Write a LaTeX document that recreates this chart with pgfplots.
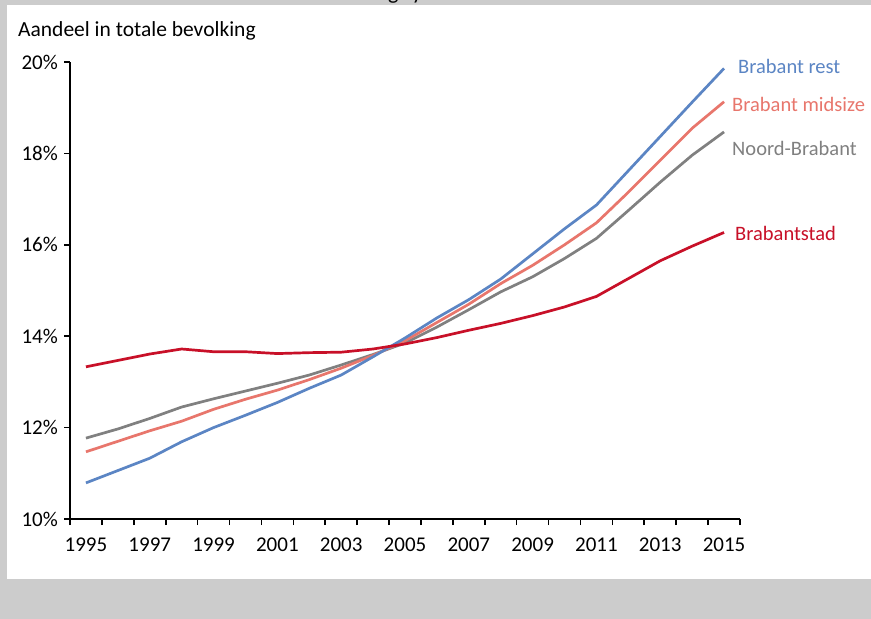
\documentclass[border=0pt]{standalone}
\usepackage{pgfplots}
\pgfplotsset{compat=1.18}
\usepackage{fontspec}
\setmainfont{Carlito}

\definecolor{brest}{RGB}{91,133,196}
\definecolor{bmid}{RGB}{232,118,108}
\definecolor{nbr}{RGB}{128,128,128}
\definecolor{bstad}{RGB}{200,16,40}
\definecolor{bgc}{RGB}{204,204,204}

\begin{document}
\begin{tikzpicture}[x=1pt,y=1pt]
  \fill[bgc] (0,0) rectangle (871,619);
  \fill[white] (7,40) rectangle (871,614);
  % bottom of a cut-off title above the chart
  \begin{scope}
    \clip (0,613) rectangle (871,619);
    \node[anchor=base west, inner sep=0, font=\fontsize{22}{26}\selectfont] at (388,619.5) {g};
    \node[anchor=base west, inner sep=0, font=\fontsize{22}{26}\selectfont] at (412,619.5) {y};
  \end{scope}
  \node[anchor=base west, inner sep=0, font=\fontsize{21.5}{25}\selectfont] at (18,582) {Aandeel in totale bevolking};

  \begin{axis}[
    at={(70pt,100pt)}, anchor=south west,
    scale only axis, width=670pt, height=457pt,
    xmin=1994.5, xmax=2015.5, ymin=10, ymax=20,
    axis x line*=bottom, axis y line*=left,
    axis line style={black, line width=1.8pt},
    tick align=outside, major tick length=6pt,
    tick style={black, line width=1.6pt},
    xtick={1994.5,1995.5,...,2015.5}, xticklabels={},
    extra x ticks={1995,1997,...,2015},
    extra x tick style={major tick length=0pt},
    ytick={10,12,...,20},
    yticklabel={\pgfmathprintnumber{\tick}\%},
    /pgf/number format/1000 sep={},
    /pgf/number format/assume math mode=true,
    tick label style={font=\fontsize{21}{24}\selectfont},
    yticklabel style={inner sep=0pt, xshift=-6pt},
    xticklabel style={inner sep=0pt, yshift=-19pt},
    clip=false,
    every axis plot/.append style={line width=2.7pt, no marks, line join=round},
  ]
  % Noord-Brabant
  \addplot[nbr] coordinates {
    (1995,11.77) (1996,11.97) (1997,12.20) (1998,12.45) (1999,12.63) (2000,12.80)
    (2001,12.97) (2002,13.15) (2003,13.37) (2004,13.60) (2005,13.85) (2006,14.20)
    (2007,14.58) (2008,14.97) (2009,15.30) (2010,15.70) (2011,16.14) (2012,16.75)
    (2013,17.37) (2014,17.96) (2015,18.47)};
  % Brabant midsize
  \addplot[bmid] coordinates {
    (1995,11.47) (1996,11.70) (1997,11.93) (1998,12.14) (1999,12.40) (2000,12.62)
    (2001,12.82) (2002,13.05) (2003,13.30) (2004,13.58) (2005,13.90) (2006,14.30)
    (2007,14.70) (2008,15.15) (2009,15.55) (2010,16.00) (2011,16.48) (2012,17.15)
    (2013,17.85) (2014,18.55) (2015,19.13)};
  % Brabant rest
  \addplot[brest] coordinates {
    (1995,10.79) (1996,11.06) (1997,11.33) (1998,11.69) (1999,12.00) (2000,12.27)
    (2001,12.55) (2002,12.86) (2003,13.15) (2004,13.55) (2005,13.96) (2006,14.40)
    (2007,14.80) (2008,15.25) (2009,15.80) (2010,16.35) (2011,16.87) (2012,17.62)
    (2013,18.37) (2014,19.12) (2015,19.86)};
  % Brabantstad
  \addplot[bstad] coordinates {
    (1995,13.33) (1996,13.47) (1997,13.61) (1998,13.72) (1999,13.66) (2000,13.66)
    (2001,13.62) (2002,13.64) (2003,13.65) (2004,13.72) (2005,13.83) (2006,13.97)
    (2007,14.13) (2008,14.28) (2009,14.45) (2010,14.64) (2011,14.87) (2012,15.26)
    (2013,15.65) (2014,15.97) (2015,16.27)};
  \end{axis}

  \begin{scope}[every node/.style={anchor=west, inner sep=0, font=\fontsize{20.5}{24}\selectfont}]
    \node[text=brest] at (738,553) {Brabant rest};
    \node[text=bmid]  at (732,515) {Brabant midsize};
    \node[text=nbr]   at (732,471) {Noord-Brabant};
    \node[text=bstad] at (735,386) {Brabantstad};
  \end{scope}
\end{tikzpicture}
\end{document}
